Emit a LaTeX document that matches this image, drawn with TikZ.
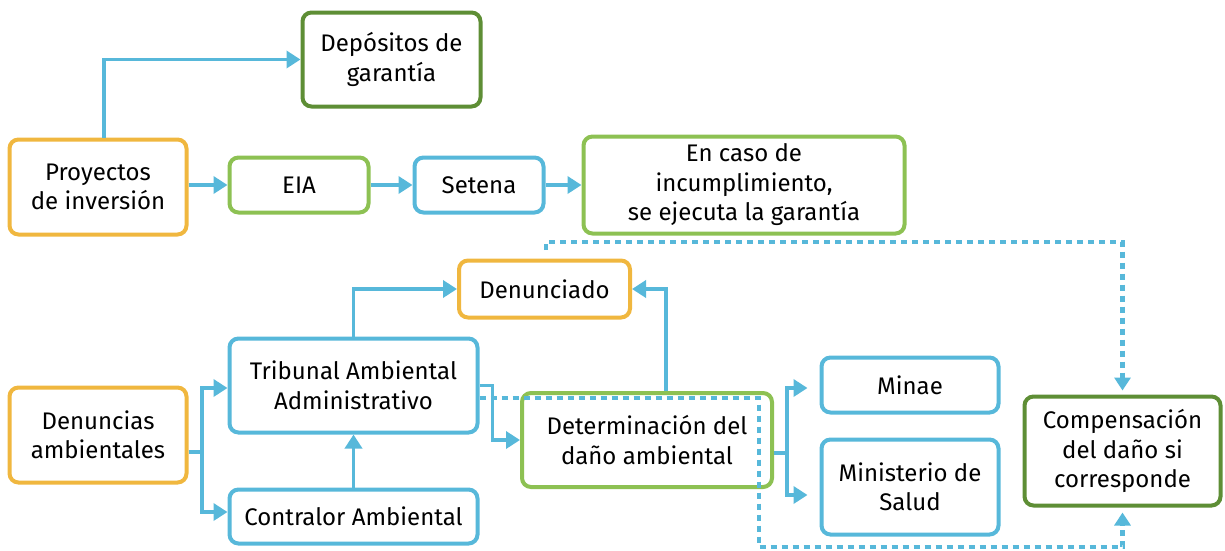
\documentclass[tikz,border=0pt]{standalone}
\usepackage{fontspec}
\setmainfont{Fira Sans}
\usetikzlibrary{arrows.meta}
\definecolor{cblue}{HTML}{57B8DA}
\definecolor{corange}{HTML}{F0B73F}
\definecolor{clgreen}{HTML}{8DC153}
\definecolor{cdgreen}{HTML}{5E8E35}
\begin{document}
\begin{tikzpicture}[x=1pt,y=-1pt,
  box/.style={draw, rounded corners=9pt, line width=4pt, fill=white, align=center,
    font=\fontsize{24}{29.5}\selectfont, inner sep=0pt, text=black},
  conn/.style={draw=cblue, line width=3.5pt},
  arr/.style={conn, -{Triangle[length=14pt,width=17pt]}},
  dots/.style={draw=cblue, line width=4.5pt, dash pattern=on 6pt off 5pt,
    -{Triangle[length=13pt,width=16pt]}}]
\useasboundingbox (0,0) rectangle (1225,550);

% nodes
\node[box, draw=cdgreen, minimum width=178pt, minimum height=94pt] (dep) at (391.5,59.5) {Depósitos de\\garantía};
\node[box, draw=corange, minimum width=177pt, minimum height=95pt] (proy) at (98,187) {Proyectos\\de inversión};
\node[box, draw=clgreen, minimum width=139pt, minimum height=55pt] (eia) at (299,185) {EIA};
\node[box, draw=cblue, minimum width=129pt, minimum height=55pt] (set) at (479,185) {Setena};
\node[box, draw=clgreen, minimum width=321pt, minimum height=97pt] (caso) at (744,185) {En caso de\\incumplimiento,\\se ejecuta la garantía};
\node[box, draw=corange, minimum width=171pt, minimum height=57pt] (dnd) at (544.5,289) {Denunciado};
\node[box, draw=cblue, minimum width=248pt, minimum height=94pt] (tri) at (353.5,385.5) {Tribunal Ambiental\\Administrativo};
\node[box, draw=corange, minimum width=177pt, minimum height=95pt] (dnc) at (98,435) {Denuncias\\ambientales};
\node[box, draw=cblue, minimum width=248pt, minimum height=54pt] (con) at (353.5,516.5) {Contralor Ambiental};
\node[box, draw=clgreen, minimum width=250pt, minimum height=94pt] (det) at (647,440) {Determinación del\\daño ambiental};
\node[box, draw=cblue, minimum width=177pt, minimum height=55pt] (min) at (910,385) {Minae};
\node[box, draw=cblue, minimum width=177pt, minimum height=95pt] (sal) at (910,487) {Ministerio de\\Salud};
\node[box, draw=cdgreen, minimum width=196pt, minimum height=109pt] (comp) at (1122.5,451) {Compensación\\del daño si\\corresponde};

% connectors
\draw[arr] ([xshift=6pt]proy.north) |- (dep.west);
\draw[arr] (proy.east |- eia.west) -- (eia.west);
\draw[arr] (eia.east) -- (set.west);
\draw[arr] (set.east) -- (caso.west);
\draw[arr] (tri.north) |- (dnd.west);
\draw[arr] ([xshift=19pt]det.north) |- (dnd.east);
\draw[arr] (tri.east) -- ++(13,0) |- (det.west);
\draw[arr] (con.north) -- (tri.south);

\coordinate (sp1) at (202,452);
\draw[conn] ([yshift=-17pt]dnc.east) -- (sp1);
\draw[arr] (sp1) |- ([yshift=-2.5pt]tri.west);
\draw[arr] (sp1) |- ([yshift=4.5pt]con.west);

\coordinate (sp2) at (787,453);
\draw[conn] ([yshift=-13pt]det.east) -- (sp2);
\draw[arr, shorten >=12pt] (sp2) |- ([yshift=-3pt]min.west);
\draw[arr, shorten >=12pt] (sp2) |- ([yshift=-8pt]sal.west);

% dotted
\coordinate (d1) at (546,250);
\draw[dots, shorten >=4pt] (d1) -- (546,242) -| (comp.north);
\draw[dots, shorten >=5pt] ([yshift=-12.5pt]tri.east) -| (759,547) -| (comp.south);
\end{tikzpicture}
\end{document}
